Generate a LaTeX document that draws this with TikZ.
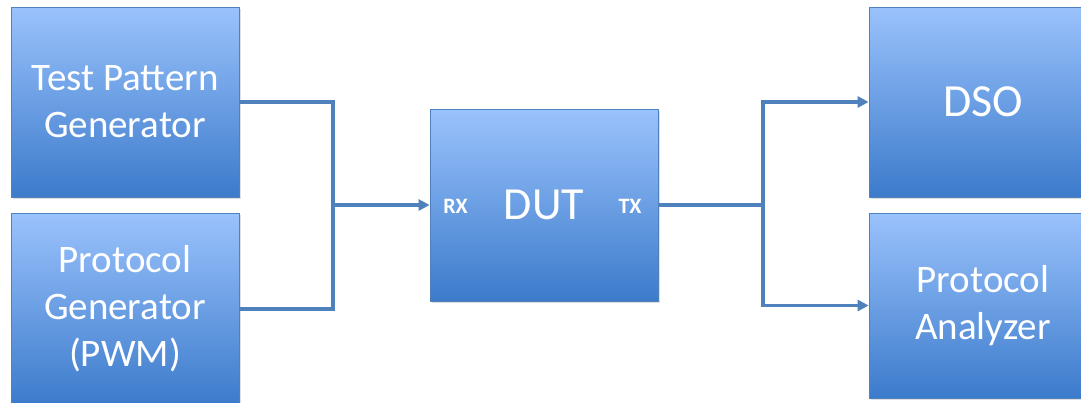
\documentclass[tikz,border=0pt]{standalone}
\usepackage{fontspec}
\setmainfont{Carlito}
\usetikzlibrary{arrows.meta,shadows}

\definecolor{boxtop}{RGB}{154,194,252}
\definecolor{boxbot}{RGB}{60,123,203}
\definecolor{boxedge}{RGB}{79,129,189}
\definecolor{wire}{RGB}{79,129,189}

\tikzset{
  block/.style={
    rectangle, inner sep=0pt, draw=boxedge, line width=0.8pt,
    top color=boxtop, bottom color=boxbot,
    minimum width=228pt, text=white, align=center,
    drop shadow={opacity=0.25, shadow xshift=1.5pt, shadow yshift=-2pt}
  },
  label text/.style={font=\fontsize{39}{47}\selectfont},
  big text/.style={font=\fontsize{46}{52}\selectfont},
  port/.style={text=white, font=\fontsize{22}{24}\selectfont\bfseries, inner sep=0pt},
  wire/.style={draw=wire, line width=3.5pt, line join=miter},
  feed/.style={wire, -{Triangle[length=11pt,width=11pt]}}
}

\begin{document}
\begin{tikzpicture}[x=1pt,y=-1pt]
  \useasboundingbox (0,0) rectangle (1081,402);
  \clip (0,0) rectangle (1081,402);
  \fill[white] (0,0) rectangle (1081,402);

  % sources
  \node[block, label text, minimum height=190pt] (tpg) at (125,102)
    {Test Pattern\\Generator};
  \node[block, label text, minimum height=192pt] (pg) at (125,309)
    {Protocol\\Generator\\(PWM)};

  % device under test
  \node[block, big text, minimum height=192pt] (dut) at (544,205) {DUT};
  \node[port] (rx) at (455.5,206) {RX};
  \node[port] (tx) at (630,206) {TX};

  % instruments
  \node[block, big text, minimum height=190pt] (dso) at (983,102) {DSO};
  \node[block, label text, minimum height=185pt] (pa) at (983,305.5)
    {Protocol\\Analyzer};

  % wiring
  \coordinate (jl) at (333,205);
  \coordinate (jr) at (763,205);
  \draw[wire] (tpg.east) -| (jl);
  \draw[wire] (pg.east) -| (jl);
  \draw[feed] (jl) -- (dut.west);
  \draw[wire] (dut.east) -- (jr);
  \draw[feed] (jr) |- (dso.west);
  \draw[feed] (jr) |- (pa.west);
\end{tikzpicture}
\end{document}
